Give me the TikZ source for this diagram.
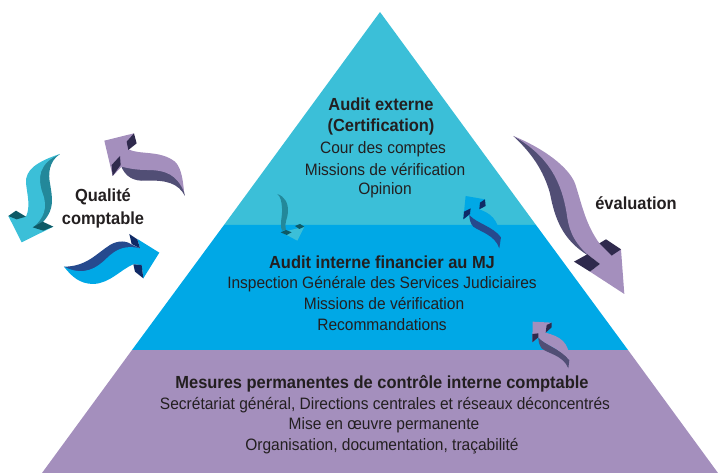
\documentclass[tikz,border=0pt]{standalone}
\usepackage{fontspec}
\setmainfont[FakeStretch=0.94]{Liberation Sans}
\usepackage{xcolor}
\definecolor{tealface}{HTML}{3BBFD8}
\definecolor{tealside}{HTML}{23889A}
\definecolor{tealnotch}{HTML}{0E5A66}
\definecolor{skyface}{HTML}{00A8E6}
\definecolor{skyside}{HTML}{264A8E}
\definecolor{skynotch}{HTML}{0F2A66}
\definecolor{lilacface}{HTML}{A48FBD}
\definecolor{lilacside}{HTML}{514E75}
\definecolor{lilacnotch}{HTML}{2F2A4D}
\definecolor{inkgrey}{HTML}{231F20}
\tikzset{
  title/.style={font=\fontsize{17.5}{18}\selectfont\bfseries,text=inkgrey,inner sep=0pt},
  line/.style={font=\fontsize{16.5}{18}\selectfont,text=inkgrey,inner sep=0pt},
  px/.style={shift={(#1)},scale=0.3333}
}
\begin{document}
\begin{tikzpicture}[x=1pt,y=-1pt]
  \useasboundingbox (0,0) rectangle (718,473);

  % the three levels of the pyramid
  \fill[tealface] (380,12) -- (536,225) -- (224,225) -- cycle;
  \fill[skyface] (224,225) -- (536,225) -- (628,350) -- (132,350) -- cycle;
  \fill[lilacface] (132,350) -- (628,350) -- (718,473) -- (42,473) -- cycle;

  \node[title] (externe) at (381,104) {Audit externe};
  \node[title] (certif) at (381,127) {(Certification)};
  \node[line] (cour) at (383,149) {Cour des comptes};
  \node[line] (missiona) at (385,170) {Missions de vérification};
  \node[line] (opinion) at (385,190) {Opinion};

  \node[title] (interne) at (382,262) {Audit interne financier au MJ};
  \node[line] (inspection) at (382,284) {Inspection Générale des Services Judiciaires};
  \node[line] (missionb) at (384,304) {Missions de vérification};
  \node[line] (recomm) at (382,325) {Recommandations};

  \node[title] (mesures) at (382,384) {Mesures permanentes de contrôle interne comptable};
  \node[line] (secret) at (385,405) {Secrétariat général, Directions centrales et réseaux déconcentrés};
  \node[line] (oeuvre) at (384,425) {Mise en œuvre permanente};
  \node[line] (organ) at (382,446) {Organisation, documentation, traçabilité};

  \node[title] (qualite) at (103,197) {Qualité};
  \node[title] (comptable) at (103,220) {comptable};
  \node[title] (evaluation) at (636,203) {évaluation};

  % teal arrow, left
  \begin{scope}[px={0,120}]
    \fill[tealside] (180,102) .. controls (145,125) and (145,165) .. (150,190) .. controls (157,235) and (165,265) .. (130,305) -- (100,322) -- (120,200) .. controls (115,150) and (125,125) .. cycle;
    \fill[tealface] (180,102) .. controls (110,125) and (75,150) .. (78,190) .. controls (82,225) and (92,260) .. (78,290) -- (25,288) -- (65,367) -- (160,320) -- (100,322) .. controls (130,295) and (145,265) .. (128,220) .. controls (112,175) and (115,130) .. cycle;
    \fill[tealnotch] (25,288) -- (48,272) -- (78,290) -- (50,298) -- cycle;
    \fill[tealnotch] (98,322) -- (128,305) -- (160,320) -- (130,332) -- cycle;
  \end{scope}

  % lilac arrow, upper left
  \begin{scope}[px={0,120}]
    \fill[lilacside] (362,135) .. controls (400,140) and (470,135) .. (510,150) .. controls (535,160) and (545,180) .. (555,228) .. controls (535,190) and (500,180) .. (440,182) .. controls (400,185) and (375,170) .. cycle;
    \fill[lilacface] (313,62) -- (402,40) -- (385,88) .. controls (420,105) and (480,90) .. (525,125) .. controls (540,140) and (548,165) .. (552,215) .. controls (530,165) and (500,150) .. (440,150) .. controls (410,150) and (385,145) .. (365,140) -- (338,168) -- cycle;
    \fill[lilacnotch] (402,40) -- (410,70) -- (385,90) -- (380,65) -- cycle;
    \fill[lilacnotch] (360,108) -- (362,135) -- (338,168) -- (335,135) -- cycle;
  \end{scope}

  % blue arrow, bottom left
  \begin{scope}[px={0,120}]
    \fill[skyside] (192,440) .. controls (260,440) and (290,400) .. (330,375) .. controls (355,360) and (380,362) .. (398,375) -- (420,385) -- (340,400) -- (270,465) -- (225,465) -- cycle;
    \fill[skyface] (192,440) .. controls (250,470) and (290,445) .. (320,415) .. controls (350,385) and (380,375) .. (420,385) -- (412,357) -- (478,398) -- (430,475) -- (425,435) -- (400,433) .. controls (360,450) and (330,490) .. (280,492) .. controls (240,492) and (215,470) .. cycle;
    \fill[skynotch] (388,342) -- (412,358) -- (420,385) -- (395,372) -- cycle;
    \fill[skynotch] (400,433) -- (425,435) -- (430,475) -- (405,455) -- cycle;
  \end{scope}

  % lilac arrow, evaluation
  \begin{scope}[px={500,120}]
    \fill[lilacside] (40,48) .. controls (95,100) and (130,150) .. (150,220) .. controls (165,300) and (190,360) .. (262,405) -- (298,400) -- (220,320) -- (190,180) -- (110,85) -- cycle;
    \fill[lilacface] (40,48) .. controls (130,85) and (205,140) .. (225,190) .. controls (245,250) and (255,310) .. (298,370) -- (363,388) -- (373,522) -- (270,455) -- (300,432) -- (262,403) .. controls (215,360) and (205,320) .. (200,280) .. controls (185,190) and (150,110) .. cycle;
    \fill[lilacnotch] (298,370) -- (318,358) -- (363,388) -- (335,407) -- cycle;
    \fill[lilacnotch] (222,425) -- (262,403) -- (300,432) -- (270,455) -- cycle;
  \end{scope}

  % small teal arrow
  \begin{scope}[px={260,180}]
    \fill[tealface] (65,157) -- (133,140) -- (112,182) -- cycle;
    \fill[tealside] (52,42) .. controls (75,50) and (85,70) .. (84,95) .. controls (84,115) and (72,125) .. (78,150) -- (66,152) .. controls (58,130) and (68,110) .. (66,85) .. controls (65,65) and (62,50) .. cycle;
    \fill[tealnotch] (62,157) -- (78,150) -- (95,157) -- (80,165) -- cycle;
    \fill[tealnotch] (105,138) -- (120,132) -- (133,140) -- (118,147) -- cycle;
  \end{scope}

  % small blue arrow
  \begin{scope}[px={260,180}]
    \fill[skyface] (617,48) -- (675,58) -- (658,88) .. controls (690,100) and (715,115) .. (722,175) .. controls (700,145) and (650,130) .. (628,105) -- (610,118) -- cycle;
    \fill[skyside] (628,105) .. controls (650,130) and (700,140) .. (723,172) -- (718,205) .. controls (705,165) and (660,155) .. (640,140) .. controls (632,132) and (628,118) .. cycle;
    \fill[skynotch] (675,58) -- (677,78) -- (658,88) -- (660,68) -- cycle;
    \fill[skynotch] (632,85) -- (630,102) -- (610,118) -- (612,95) -- cycle;
  \end{scope}

  % small lilac arrow
  \begin{scope}[px={510,310}]
    \fill[lilacside] (85,82) .. controls (105,105) and (150,115) .. (178,150) -- (175,175) .. controls (160,135) and (110,130) .. (95,115) .. controls (88,105) and (85,95) .. cycle;
    \fill[lilacface] (68,35) -- (125,38) -- (107,68) .. controls (150,80) and (178,95) .. (178,150) .. controls (150,115) and (105,105) .. (85,82) -- (67,97) -- cycle;
    \fill[lilacnotch] (125,38) -- (125,52) -- (107,68) -- (110,45) -- cycle;
    \fill[lilacnotch] (85,70) -- (85,82) -- (67,97) -- (67,72) -- cycle;
  \end{scope}
\end{tikzpicture}
\end{document}
